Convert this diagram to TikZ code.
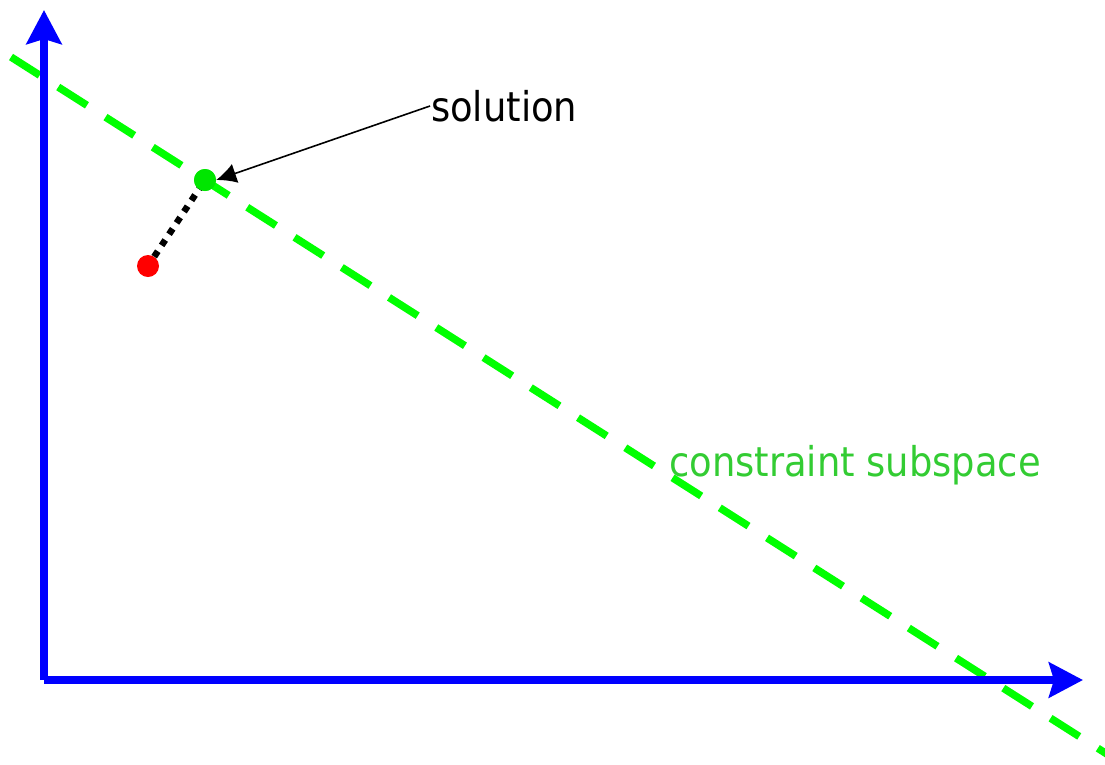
\documentclass[tikz,border=0pt]{standalone}
\usepackage{fontspec}
\setmainfont{DejaVu Sans Condensed}
\usetikzlibrary{arrows.meta}
\definecolor{axisblue}{RGB}{0,0,255}
\definecolor{linegreen}{RGB}{0,255,0}
\definecolor{dotgreen}{RGB}{0,230,0}
\definecolor{textgreen}{RGB}{51,204,51}
\definecolor{dotred}{RGB}{255,0,0}
\tikzset{
  axis/.style={draw=axisblue, line width=7.5pt,
    -{Stealth[length=34pt,width=35pt,inset=5pt]}},
  constraint/.style={draw=linegreen, line width=7.5pt, dash pattern=on 34pt off 22pt},
  proj/.style={draw=black, line width=6.5pt, dash pattern=on 6.5pt off 7pt},
  pt/.style={circle, inner sep=0pt, minimum size=22pt},
  label/.style={inner sep=0pt, anchor=base west, font=\fontsize{41}{49}\selectfont},
  pointer/.style={draw=black, line width=1.6pt, -{Latex[length=20pt,width=20pt]}}
}
\begin{document}
\begin{tikzpicture}[x=1pt,y=-1pt]
\useasboundingbox (0,0) rectangle (1105,764);
\coordinate (ytip) at (44,10);
\coordinate (O) at (44,680);
\coordinate (xtip) at (1083,680);
\coordinate (cs) at (11,57);
\coordinate (ce) at (1110,756);
\draw[constraint] (cs) -- (ce);
\draw[axis] (O) -- (ytip);
\draw[axis] (O) -- (xtip);
\node[pt, fill=dotred] (red) at (148,266) {};
\node[pt, fill=dotgreen] (sol) at (205,180) {};
\draw[proj] (red) -- (sol.center);
\node[pt, fill=dotgreen] at (sol) {};
\node[label, text=black] (soltext) at (431,121) {solution};
\coordinate (solstart) at (430,106);
\draw[pointer] (solstart) -- (sol.east);
\node[label, text=textgreen] (ctext) at (669,476) {constraint subspace};
\end{tikzpicture}
\end{document}
